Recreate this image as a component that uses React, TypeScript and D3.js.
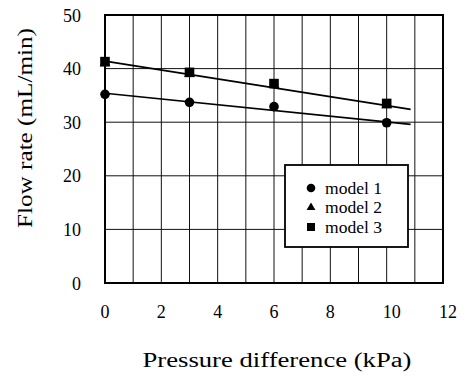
import React, { useRef, useEffect } from 'react';
import * as d3 from 'd3';

const pressure = [0, 3, 6, 10];
const model1 = [35.2, 33.7, 32.9, 29.9];
const model2 = [41.0, 39.0, 37.0, 33.2];
const model3 = [41.3, 39.3, 37.2, 33.5];

// trend lines (start / end)
const trendX = [0, 10.85];
const trend1 = [35.4, 29.6];
const trend3 = [41.4, 32.4];

const xTicks = [0, 2, 4, 6, 8, 10, 12];
const yTicks = [0, 10, 20, 30, 40, 50];
const legendLabels = ['model 1', 'model 2', 'model 3'];

const width = 464;
const height = 376;
const margin = { top: 15, right: 21, bottom: 93, left: 105 };
const serif = "'Liberation Serif', 'Times New Roman', Times, serif";

const App: React.FC = () => {
  const svgRef = useRef<SVGSVGElement>(null);

  useEffect(() => {
    if (!svgRef.current) return;
    const svg = d3.select(svgRef.current);
    svg.selectAll('*').remove();

    const innerWidth = width - margin.left - margin.right;
    const innerHeight = height - margin.top - margin.bottom;

    const x = d3.scaleLinear().domain([0, 12]).range([0, innerWidth]);
    const y = d3.scaleLinear().domain([0, 50]).range([innerHeight, 0]);

    const g = svg.append('g').attr('transform', `translate(${margin.left},${margin.top})`);

    // grid
    g.selectAll('.vgrid')
      .data(d3.range(1, 12))
      .enter()
      .append('line')
      .attr('x1', d => x(d))
      .attr('x2', d => x(d))
      .attr('y1', 0)
      .attr('y2', innerHeight)
      .attr('stroke', '#111')
      .attr('stroke-width', 1);

    g.selectAll('.hgrid')
      .data(yTicks.slice(1, -1))
      .enter()
      .append('line')
      .attr('x1', 0)
      .attr('x2', innerWidth)
      .attr('y1', d => y(d))
      .attr('y2', d => y(d))
      .attr('stroke', '#111')
      .attr('stroke-width', 1);

    g.append('rect')
      .attr('width', innerWidth)
      .attr('height', innerHeight)
      .attr('fill', 'none')
      .attr('stroke', '#000')
      .attr('stroke-width', 2);

    // tick labels
    g.selectAll('.xt')
      .data(xTicks)
      .enter()
      .append('text')
      .attr('x', d => x(d) + (d >= 10 ? 5 : 0))
      .attr('y', innerHeight + 35)
      .attr('text-anchor', 'middle')
      .style('font-family', serif)
      .style('font-size', '18px')
      .text(d => d);

    g.selectAll('.yt')
      .data(yTicks)
      .enter()
      .append('text')
      .attr('x', -24)
      .attr('y', d => y(d) + 6.5)
      .attr('text-anchor', 'end')
      .style('font-family', serif)
      .style('font-size', '18px')
      .text(d => d);

    // titles
    svg.append('text')
      .attr('x', 277)
      .attr('y', 367)
      .attr('text-anchor', 'middle')
      .style('font-family', serif)
      .style('font-size', '20px')
      .attr('textLength', 269)
      .attr('lengthAdjust', 'spacingAndGlyphs')
      .text('Pressure difference (kPa)');

    svg.append('text')
      .attr('transform', 'translate(32,128) rotate(-90)')
      .attr('text-anchor', 'middle')
      .style('font-family', serif)
      .style('font-size', '20px')
      .attr('textLength', 200)
      .attr('lengthAdjust', 'spacingAndGlyphs')
      .text('Flow rate (mL/min)');

    // trend lines
    const line = d3.line<[number, number]>()
      .x(d => x(d[0]))
      .y(d => y(d[1]));
    [trend1, trend3].forEach(t => {
      g.append('path')
        .datum(trendX.map((v, i) => [v, t[i]] as [number, number]))
        .attr('fill', 'none')
        .attr('stroke', '#000')
        .attr('stroke-width', 1.6)
        .attr('d', line);
    });

    // markers
    const tri = d3.symbol().type(d3.symbolTriangle).size(50);
    g.selectAll('.m2')
      .data(pressure)
      .enter()
      .append('path')
      .attr('d', tri)
      .attr('transform', (d, i) => `translate(${x(d)},${y(model2[i])})`)
      .attr('fill', '#000');

    g.selectAll('.m1')
      .data(pressure)
      .enter()
      .append('circle')
      .attr('cx', d => x(d))
      .attr('cy', (d, i) => y(model1[i]))
      .attr('r', 4.8)
      .attr('fill', '#000');

    g.selectAll('.m3')
      .data(pressure)
      .enter()
      .append('rect')
      .attr('x', d => x(d) - 4.8)
      .attr('y', (d, i) => y(model3[i]) - 4.8)
      .attr('width', 9.6)
      .attr('height', 9.6)
      .attr('fill', '#000');

    // legend
    const lg = svg.append('g').attr('transform', 'translate(285,165)');
    lg.append('rect')
      .attr('width', 123)
      .attr('height', 82)
      .attr('fill', '#fff')
      .attr('stroke', '#000')
      .attr('stroke-width', 1.8);
    legendLabels.forEach((label, i) => {
      const cy = 23 + i * 19.5;
      if (i === 0) {
        lg.append('circle').attr('cx', 26).attr('cy', cy).attr('r', 4.3).attr('fill', '#000');
      } else if (i === 1) {
        lg.append('path')
          .attr('d', d3.symbol().type(d3.symbolTriangle).size(34)())
          .attr('transform', `translate(26,${cy})`)
          .attr('fill', '#000');
      } else {
        lg.append('rect').attr('x', 22).attr('y', cy - 4).attr('width', 8).attr('height', 8).attr('fill', '#000');
      }
      lg.append('text')
        .attr('x', 40)
        .attr('y', cy + 5.5)
        .style('font-family', serif)
        .style('font-size', '16px')
        .attr('textLength', 57)
        .attr('lengthAdjust', 'spacingAndGlyphs')
        .text(label);
    });
  }, []);

  return (
    <svg
      ref={svgRef}
      width={width}
      height={height}
      style={{ position: 'absolute', left: 0, top: 0, background: '#fff' }}
    />
  );
};

export default App;
